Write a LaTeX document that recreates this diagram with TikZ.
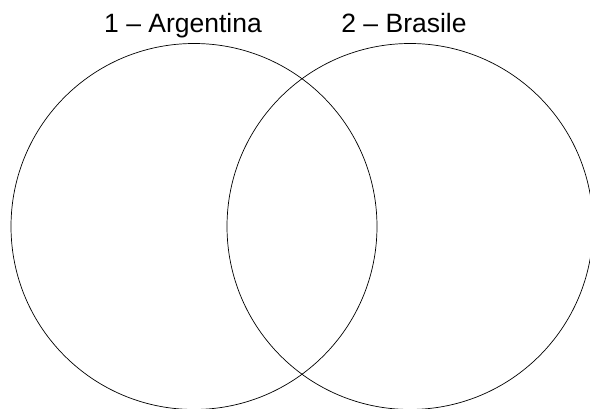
\documentclass[tikz,border=0pt]{standalone}
\usepackage{fontspec}
\setmainfont{Liberation Sans}
\begin{document}
\begin{tikzpicture}[x=1pt,y=1pt,
  setcircle/.style={circle,draw=black,line width=0.7pt,minimum size=366pt,inner sep=0pt},
  setlabel/.style={anchor=base,inner sep=0pt,font=\fontsize{26.5}{30}\selectfont}]
\useasboundingbox (0,0) rectangle (590,409);
\clip (0,0) rectangle (590,409);
\node[setcircle] (A) at (194,182.5) {};
\node[setcircle] (B) at (410,182.5) {};
\node[setlabel] (la) at (183,376) {1 – Argentina};
\node[setlabel] (lb) at (404,376) {2 – Brasile};
\end{tikzpicture}
\end{document}
